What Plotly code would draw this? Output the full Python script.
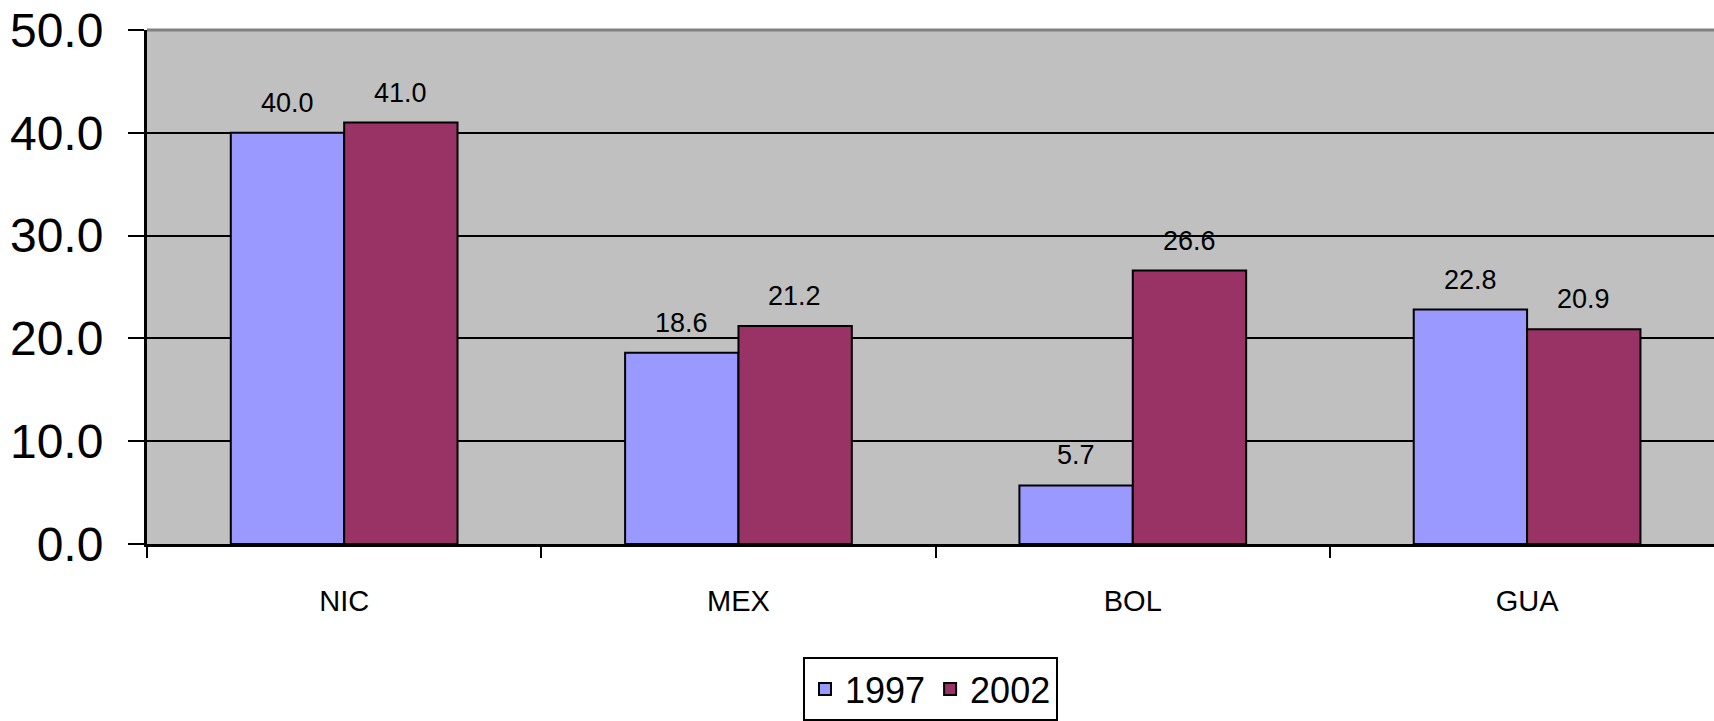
import plotly.graph_objects as go

categories = ["NIC", "MEX", "BOL", "GUA"]
series_1997 = [40.0, 18.6, 5.7, 22.8]
series_2002 = [41.0, 21.2, 26.6, 20.9]
y_ticks = [0, 10, 20, 30, 40, 50]
y_tick_labels = ["0.0", "10.0", "20.0", "30.0", "40.0", "50.0"]

FONT = "Liberation Sans, Arial, sans-serif"

fig = go.Figure()
fig.add_trace(go.Bar(name="1997", x=categories, y=series_1997,
                     marker=dict(color="#9999FF", line=dict(color="black", width=2))))
fig.add_trace(go.Bar(name="2002", x=categories, y=series_2002,
                     marker=dict(color="#993366", line=dict(color="black", width=2))))

bar_px = 56.5
for vals, shift in ((series_1997, -bar_px), (series_2002, bar_px)):
    for c, v in zip(categories, vals):
        fig.add_annotation(x=c, y=v, text=f"{v:.1f}", showarrow=False,
                           xshift=shift, yshift=30, yanchor="middle",
                           font=dict(family=FONT, size=27, color="black"))

fig.add_shape(type="line", xref="paper", yref="paper", x0=0, x1=1, y0=1, y1=1,
              line=dict(color="#808080", width=3))

fig.update_layout(
    width=1714, height=721, autosize=False,
    margin=dict(l=147, r=0, t=30, b=176, pad=0),
    plot_bgcolor="#C0C0C0", paper_bgcolor="white",
    barmode="group", bargap=0.425, bargroupgap=0,
    font=dict(family=FONT, color="black"),
    showlegend=True,
    legend=dict(orientation="h", x=0.5, xanchor="center", y=-0.221, yanchor="top",
                bordercolor="black", borderwidth=2, bgcolor="white",
                font=dict(family=FONT, size=36, color="black"),
                itemwidth=30, traceorder="normal"),
    xaxis=dict(type="category", range=[-0.5, 3.474], showgrid=False,
               showline=True, linecolor="black", linewidth=3,
               ticks="outside", tickson="boundaries", ticklen=11, tickwidth=2,
               tickcolor="black", tickfont=dict(family=FONT, size=29, color="black"),
               ticklabelstandoff=29),
    yaxis=dict(range=[0, 50], tickvals=y_ticks, ticktext=y_tick_labels,
               showgrid=True, gridcolor="black", gridwidth=2,
               showline=True, linecolor="black", linewidth=3,
               ticks="outside", ticklen=16, tickwidth=2, tickcolor="black",
               tickfont=dict(family=FONT, size=48, color="black"),
               ticklabelstandoff=15, zeroline=False),
)

fig.write_html("out.html")
